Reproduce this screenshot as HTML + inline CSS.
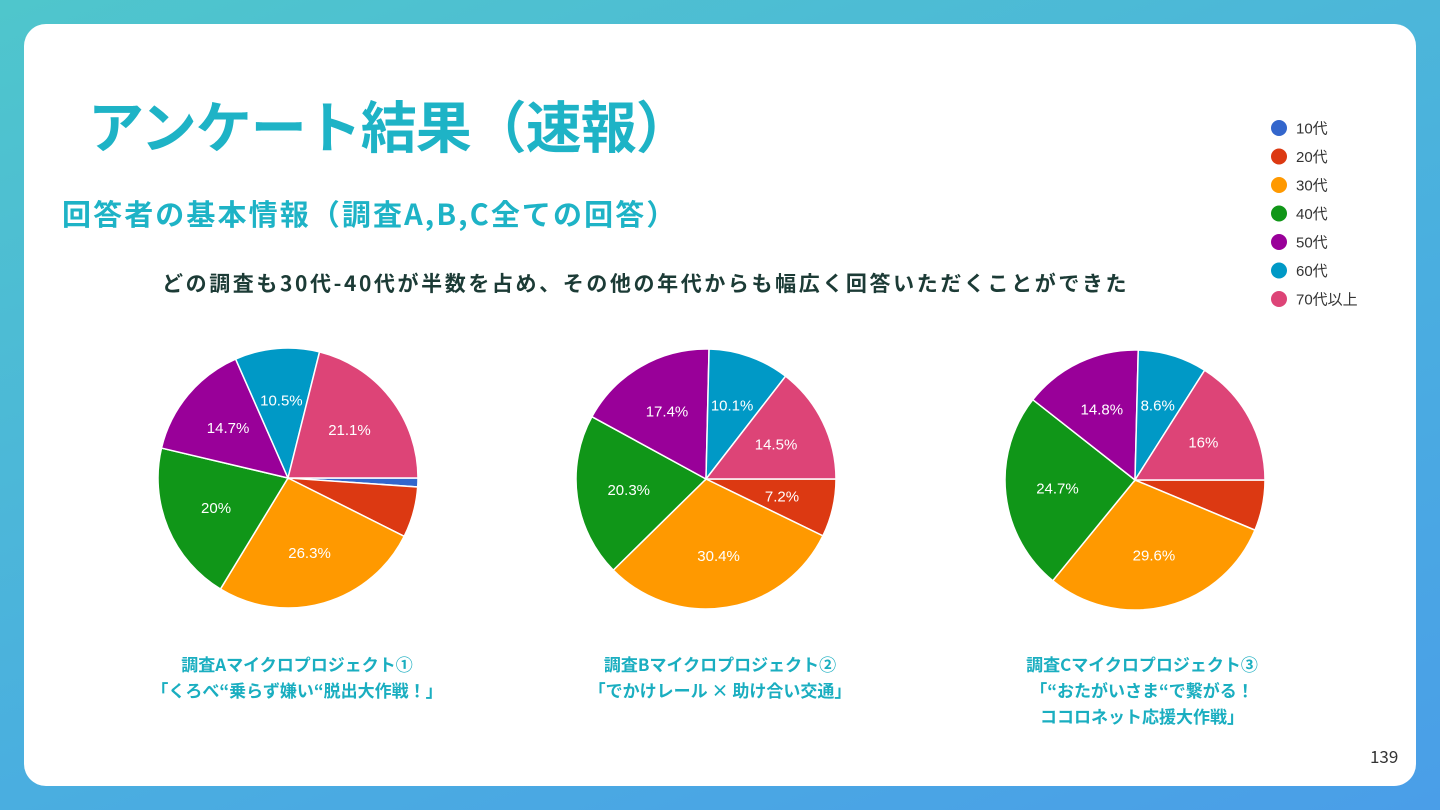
<!DOCTYPE html>
<html><head><meta charset="utf-8"><style>
body{margin:0;width:1440px;height:810px;overflow:hidden;background:linear-gradient(160deg,#4fc6cc 0%,#4aaee0 60%,#4a9ee8 100%);font-family:"Liberation Sans","Noto Sans CJK JP",sans-serif;}
.card{position:absolute;left:24px;top:24px;width:1392px;height:762px;background:#fff;border-radius:22px;}
.t{position:absolute;white-space:nowrap;font-family:"Noto Sans CJK JP",sans-serif;font-weight:bold;}
.title{left:88px;top:84px;font-size:56px;color:#1eb3c6;letter-spacing:-1px;}
.sub{left:62px;top:192px;font-size:29px;color:#1eb3c6;letter-spacing:2.1px;}
.note{left:162px;top:268px;font-size:21px;color:#1c3b36;letter-spacing:2.6px;}
.cap{font-size:17px;color:#1aaec0;text-align:center;line-height:26px;transform:translateX(-50%);}
.pg{left:1370px;top:743px;font-size:17px;color:#333;font-weight:normal;}
svg{position:absolute;left:0;top:0;}
</style></head><body>
<div class="card"></div>
<div class="t title">アンケート結果（速報）</div>
<div class="t sub">回答者の基本情報（調査A,B,C全ての回答）</div>
<div class="t note">どの調査も30代-40代が半数を占め、その他の年代からも幅広く回答いただくことができた</div>
<div class="t cap" style="left:297px;top:651px">調査Aマイクロプロジェクト①<br>「くろべ“乗らず嫌い“脱出大作戦！」</div>
<div class="t cap" style="left:720px;top:651px">調査Bマイクロプロジェクト②<br>「でかけレール × 助け合い交通」</div>
<div class="t cap" style="left:1142px;top:651px">調査Cマイクロプロジェクト③<br>「“おたがいさま“で繋がる！<br>ココロネット応援大作戦」</div>
<div class="t pg">139</div>
<svg id="chart" width="1440" height="810"></svg>
<script>
const categories=["10代","20代","30代","40代","50代","60代","70代以上"];
const colors=["#3366cc","#dc3912","#ff9900","#109618","#990099","#0099c6","#dd4477"];
const surveyA=[1.1,6.3,26.3,20,14.7,10.5,21.1];
const surveyB=[0,7.2,30.4,20.3,17.4,10.1,14.5];
const surveyC=[0,6.3,29.6,24.7,14.8,8.6,16];
const pies=[{d:surveyA,cx:288,cy:478,n:"a"},{d:surveyB,cx:706,cy:479,n:"b"},{d:surveyC,cx:1135,cy:480,n:"c"}];
const R=130,NS="http://www.w3.org/2000/svg";
const svg=document.getElementById('chart');
function pt(cx,cy,r,a){return [cx+r*Math.sin(a),cy-r*Math.cos(a)];}
pies.forEach(p=>{
  const tot=p.d.reduce((s,v)=>s+v,0);
  let a=Math.PI/2;
  p.d.forEach((v,i)=>{
    if(v<=0)return;
    const da=v/tot*2*Math.PI;
    const [x1,y1]=pt(p.cx,p.cy,R,a),[x2,y2]=pt(p.cx,p.cy,R,a+da);
    const path=document.createElementNS(NS,'path');
    path.setAttribute('d',`M${p.cx},${p.cy}L${x1},${y1}A${R},${R} 0 ${da>Math.PI?1:0} 1 ${x2},${y2}Z`);
    path.setAttribute('fill',colors[i]);path.setAttribute('stroke','#fff');path.setAttribute('stroke-width','1.5');
    
    
    svg.appendChild(path);
    if(v/tot>=0.07){
      const [lx,ly]=pt(p.cx,p.cy,R*0.6,a+da/2);
      const t=document.createElementNS(NS,'text');
      t.setAttribute('x',lx);t.setAttribute('y',ly+5);t.setAttribute('text-anchor','middle');
      t.setAttribute('fill','#fff');t.setAttribute('font-size','15');t.setAttribute('font-family','Liberation Sans, sans-serif');
      t.textContent=v+'%';
      
      
      svg.appendChild(t);
    }
    a+=da;
  });
});
categories.forEach((c,i)=>{
  const y=128+i*28.5;
  const ci=document.createElementNS(NS,'circle');
  ci.setAttribute('cx',1279);ci.setAttribute('cy',y);ci.setAttribute('r',8);ci.setAttribute('fill',colors[i]);
  
  
  svg.appendChild(ci);
  const t=document.createElementNS(NS,'text');
  t.setAttribute('x',1296);t.setAttribute('y',y+5.5);t.setAttribute('font-size','15');t.setAttribute('fill','#333');
  t.setAttribute('font-family','Liberation Sans, Noto Sans CJK JP, sans-serif');
  t.textContent=c;
  
  
  svg.appendChild(t);
});
</script>
</body></html>
